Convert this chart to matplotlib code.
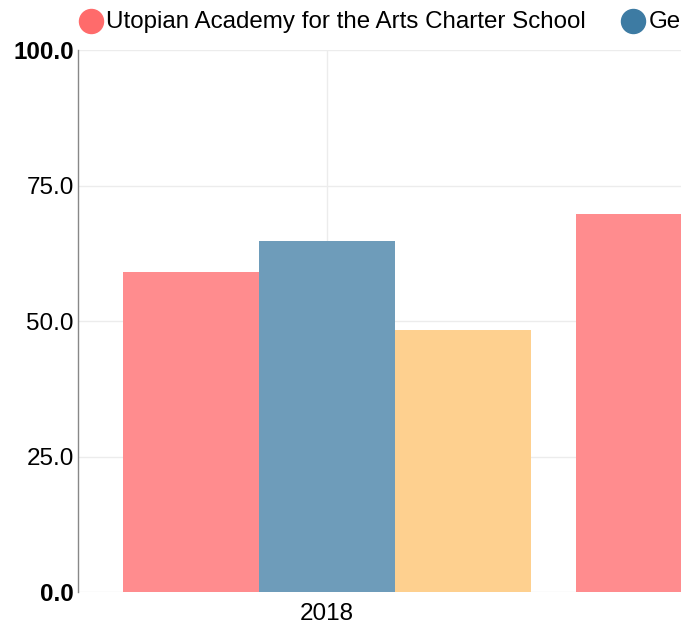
import numpy as np
import matplotlib.pyplot as plt
from matplotlib.lines import Line2D
from matplotlib.patches import Rectangle

plt.rcParams['font.family'] = ['Liberation Sans', 'DejaVu Sans']

years = [2018, 2019]
series_names = ["Utopian Academy for the Arts Charter School", "Georgia", "Clayton County"]
utopian = [59.0, 69.7]
georgia = [64.8, 66.0]
county = [48.3, 50.0]

bar_colors = ['#ff8c8e', '#6e9cba', '#fed08f']
dot_colors = ['#ff6b6b', '#3d7ba3', '#fdb94f']
yticks = [0, 25, 50, 75, 100]

W, H = 686, 629
fig = plt.figure(figsize=(W / 100, H / 100), dpi=100)
ax = fig.add_axes([78 / W, 37 / H, (681 - 78) / W, 542 / H])

width = 0.3
x = np.array(years, dtype=float)
for i, vals in enumerate([utopian, georgia, county]):
    ax.bar(x + (i - 1) * width, vals, width=width, color=bar_colors[i],
           zorder=2, linewidth=0)

ax.set_yticks(yticks)
ax.set_yticklabels([f"{v:.1f}" for v in yticks])
for lab in ax.get_yticklabels():
    if lab.get_text() in ("0.0", "100.0"):
        lab.set_fontweight('bold')
ax.set_xticks(years)
ax.set_xticklabels([str(y) for y in years])
# set limits after the ticks so they are not expanded
ax.set_ylim(0, 100)
ax.set_xlim(2018 - 249 / 453, 2018 + 354 / 453)
ax.tick_params(axis='both', length=0, labelsize=17.5, colors='black')
ax.tick_params(axis='y', pad=3)
ax.tick_params(axis='x', pad=8)

ax.grid(True, color='#ececec', linewidth=1, zorder=0)
ax.set_axisbelow(True)
for s in ['top', 'right', 'bottom']:
    ax.spines[s].set_visible(False)
ax.spines['left'].set_color('#888888')
ax.spines['left'].set_linewidth(1)

# legend drawn by hand, entries laid out left to right
renderer = fig.canvas.get_renderer()
cx = 90.5
base_y = 1 - 28 / H
for name, c in zip(series_names, dot_colors):
    fig.add_artist(Line2D([cx / W], [1 - 20.5 / H], marker='o', markersize=17.3,
                          markerfacecolor=c, markeredgecolor=c, linestyle='none'))
    t = fig.text((cx + 15.5) / W, base_y, name, fontsize=17.4, ha='left', va='baseline')
    ext = t.get_window_extent(renderer)
    cx = ext.x1 + 35 + 12

# the reference is cut off at the right edge
fig.add_artist(Rectangle((681 / W, 0), 5 / W, 1, transform=fig.transFigure,
                         facecolor='white', edgecolor='none', zorder=10))

fig.savefig('out.png', dpi=100)
